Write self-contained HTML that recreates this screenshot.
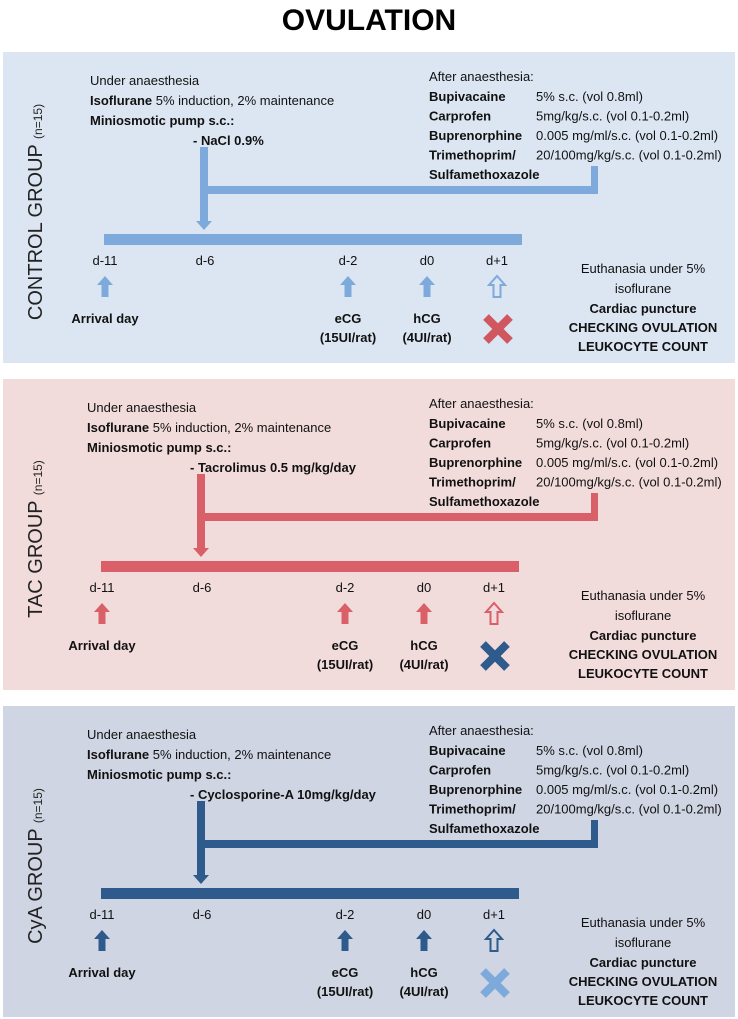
<!DOCTYPE html>
<html><head><meta charset="utf-8">
<style>
body{margin:0;background:#fff;}
svg{display:block;font-family:"Liberation Sans Narrow","Liberation Sans",sans-serif;}
</style></head>
<body>
<svg id="root" width="738" height="1019" viewBox="0 0 738 1019">
<text x="369" y="30" text-anchor="middle" font-size="30" font-weight="bold" font-family="Liberation Sans, sans-serif">OVULATION</text>
</svg>
<script>
var groups=[
 {key:"control",name:"CONTROL GROUP",bg:"#DCE6F2",c:"#7DAADB",x:"#D0575F",dy:0,dx:0,drug:"- NaCl 0.9%"},
 {key:"tac",name:"TAC GROUP",bg:"#F2DCDB",c:"#D95F68",x:"#2E5A8C",dy:327,dx:-3,drug:"- Tacrolimus 0.5 mg/kg/day"},
 {key:"cya",name:"CyA GROUP",bg:"#CFD5E2",c:"#2E5A8C",x:"#7DAADB",dy:654,dx:-3,drug:"- Cyclosporine-A 10mg/kg/day"}
];
var days=["d-11","d-6","d-2","d0","d+1"];
var dayX=[105,205,348,427,497];
function arrow(x,y,col,hollow){
 var p="M"+(x-3.5)+","+(y+21)+" L"+(x-3.5)+","+(y+9)+" L"+(x-8)+","+(y+9)+" L"+x+","+y+" L"+(x+8)+","+(y+9)+" L"+(x+3.5)+","+(y+9)+" L"+(x+3.5)+","+(y+21)+" Z";
 return '<path d="'+p+'" fill="'+(hollow?'none':col)+'" stroke="'+col+'" stroke-width="'+(hollow?2:0)+'"/>';
}
var svg=document.getElementById('root');
var html='';
groups.forEach(function(g){
 var o=g.dy, d=g.dx;
 html+='<g>';
 html+='<rect x="3" y="'+(52+o)+'" width="732" height="311" fill="'+g.bg+'"/>';
 html+='<text transform="translate(42,'+(212+o)+') rotate(-90)" text-anchor="middle" font-size="20" fill="#222" font-family="Liberation Sans, sans-serif">'+g.name+' <tspan font-size="12">(n=15)</tspan></text>';
 var L=90+d;
 html+='<text font-size="13" fill="#111">'
  +'<tspan x="'+L+'" y="'+(85+o)+'">Under anaesthesia</tspan>'
  +'<tspan x="'+L+'" y="'+(105+o)+'"><tspan font-weight="bold">Isoflurane</tspan> 5% induction, 2% maintenance</tspan>'
  +'<tspan x="'+L+'" y="'+(125+o)+'" font-weight="bold">Miniosmotic pump s.c.:</tspan>'
  +'<tspan x="'+(193+d)+'" y="'+(145+o)+'" font-weight="bold">'+g.drug+'</tspan></text>';
 var rows=[["Bupivacaine","5% s.c. (vol 0.8ml)"],["Carprofen","5mg/kg/s.c. (vol 0.1-0.2ml)"],["Buprenorphine","0.005 mg/ml/s.c. (vol 0.1-0.2ml)"],["Trimethoprim/","20/100mg/kg/s.c. (vol 0.1-0.2ml)"],["Sulfamethoxazole",""]];
 html+='<text x="429" y="'+(81+o)+'" font-size="13" fill="#111">After anaesthesia:</text>';
 rows.forEach(function(r,i){
  var y=101+o+i*19.5;
  html+='<text x="429" y="'+y+'" font-size="13" font-weight="bold" fill="#111">'+r[0]+'</text>';
  if(r[1])html+='<text x="536" y="'+y+'" font-size="13" fill="#111">'+r[1]+'</text>';
 });
 var bx=204+d;
 html+='<rect x="'+(bx-4)+'" y="'+(147+o)+'" width="8" height="76" fill="'+g.c+'"/>';
 html+='<path d="M'+(bx-8)+','+(221+o)+' L'+(bx+8)+','+(221+o)+' L'+bx+','+(230+o)+' Z" fill="'+g.c+'"/>';
 html+='<rect x="'+bx+'" y="'+(186+o)+'" width="'+(598-bx)+'" height="8" fill="'+g.c+'"/>';
 html+='<rect x="591" y="'+(166+o)+'" width="7" height="28" fill="'+g.c+'"/>';
 html+='<rect x="'+(104+d)+'" y="'+(234+o)+'" width="418" height="11" fill="'+g.c+'"/>';
 days.forEach(function(t,i){
  var x=dayX[i]+d;
  html+='<text x="'+x+'" y="'+(265+o)+'" text-anchor="middle" font-size="13" fill="#111">'+t+'</text>';
  if(i!=1)html+=arrow(x,276+o,g.c,i==4);
 });
 html+='<text x="'+(105+d)+'" y="'+(323+o)+'" text-anchor="middle" font-size="13" font-weight="bold" fill="#111">Arrival day</text>';
 html+='<text text-anchor="middle" font-size="13" font-weight="bold" fill="#111"><tspan x="'+(348+d)+'" y="'+(323+o)+'">eCG</tspan><tspan x="'+(348+d)+'" y="'+(342+o)+'">(15UI/rat)</tspan></text>';
 html+='<text text-anchor="middle" font-size="13" font-weight="bold" fill="#111"><tspan x="'+(427+d)+'" y="'+(323+o)+'">hCG</tspan><tspan x="'+(427+d)+'" y="'+(342+o)+'">(4UI/rat)</tspan></text>';
 var cx=498+d, cy=329+o;
 html+='<g stroke="'+g.x+'" stroke-width="8"><line x1="'+(cx-12)+'" y1="'+(cy-12)+'" x2="'+(cx+12)+'" y2="'+(cy+12)+'"/><line x1="'+(cx+12)+'" y1="'+(cy-12)+'" x2="'+(cx-12)+'" y2="'+(cy+12)+'"/></g>';
 html+='<text text-anchor="middle" font-size="13" fill="#111">'
  +'<tspan x="643" y="'+(273+o)+'">Euthanasia under 5%</tspan>'
  +'<tspan x="643" y="'+(293+o)+'">isoflurane</tspan>'
  +'<tspan x="643" y="'+(313+o)+'" font-weight="bold">Cardiac puncture</tspan>'
  +'<tspan x="643" y="'+(332+o)+'" font-weight="bold">CHECKING OVULATION</tspan>'
  +'<tspan x="643" y="'+(351+o)+'" font-weight="bold">LEUKOCYTE COUNT</tspan></text>';
 html+='</g>';
});
svg.insertAdjacentHTML('beforeend',html);
</script>
</body></html>
